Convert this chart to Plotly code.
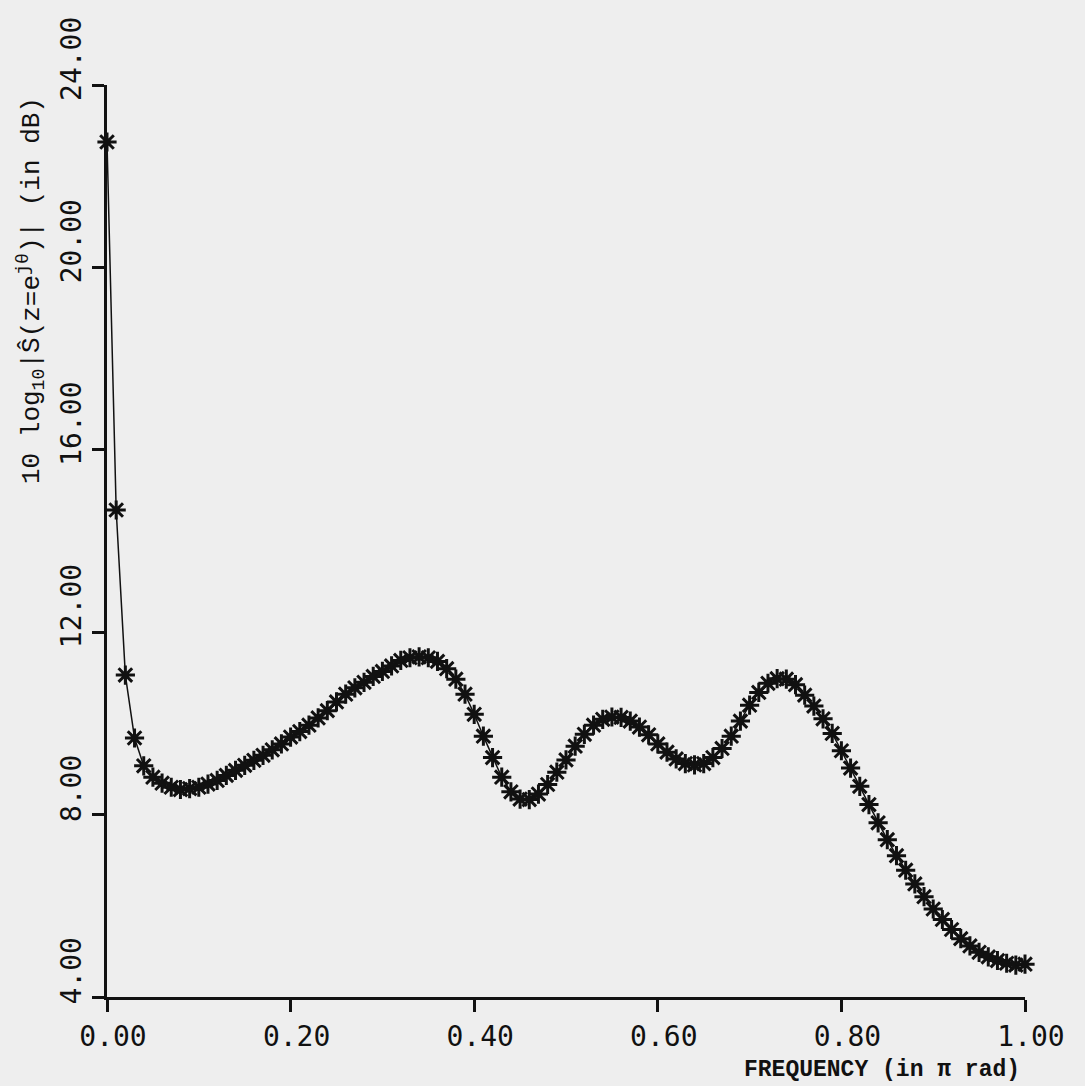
import plotly.graph_objects as go

# Frequency grid (in pi rad) and spectral estimate (dB)
freq = [round(0.01 * k, 2) for k in range(101)]
spectrum_db = [
    22.75, 14.68, 11.06, 9.68, 9.07, 8.82, 8.69, 8.60, 8.55, 8.57,
    8.60, 8.67, 8.75, 8.86, 8.97, 9.08, 9.19, 9.30, 9.42, 9.55,
    9.70, 9.82, 9.96, 10.12, 10.28, 10.47, 10.64, 10.78, 10.90, 11.03,
    11.14, 11.26, 11.38, 11.44, 11.46, 11.44, 11.36, 11.20, 10.97, 10.64,
    10.20, 9.72, 9.25, 8.82, 8.50, 8.34, 8.33, 8.45, 8.66, 8.93,
    9.20, 9.50, 9.76, 9.96, 10.09, 10.14, 10.13, 10.05, 9.92, 9.75,
    9.55, 9.37, 9.22, 9.12, 9.09, 9.12, 9.25, 9.45, 9.72, 10.05,
    10.40, 10.68, 10.88, 10.98, 10.97, 10.85, 10.62, 10.38, 10.10, 9.78,
    9.40, 9.02, 8.62, 8.22, 7.82, 7.45, 7.10, 6.78, 6.48, 6.20,
    5.93, 5.70, 5.48, 5.28, 5.12, 4.98, 4.88, 4.80, 4.74, 4.70,
    4.72,
]

x_ticks = [0.0, 0.2, 0.4, 0.6, 0.8, 1.0]
x_tick_text = ["0.00", "0.20", "0.40", "0.60", "0.80", "1.00"]
y_ticks = [4, 8, 12, 16, 20, 24]
y_tick_text = ["4.00", "8.00", "12.00", "16.00", "20.00", "24.00"]

x_title = "FREQUENCY (in \u03c0 rad)"
y_title = "10 log<sub>10</sub>|\u015c(z=e<sup>j\u03b8</sup>)| (in dB)"

ink = "#111111"
paper = "#eeeeee"

fig = go.Figure()
fig.add_trace(go.Scatter(
    x=freq, y=spectrum_db,
    mode="lines+markers",
    line=dict(color=ink, width=1.5),
    marker=dict(symbol="asterisk-open", size=16,
                line=dict(color=ink, width=3), color=ink),
    cliponaxis=False,
    showlegend=False,
))

axis_font = dict(family="DejaVu Sans Mono", size=28, color=ink)

fig.update_xaxes(
    range=[0, 1], tickvals=x_ticks, ticktext=x_tick_text,
    showline=True, linecolor=ink, linewidth=3,
    ticks="outside", ticklen=12, tickwidth=2.5, tickcolor=ink,
    showgrid=False, zeroline=False, tickfont=axis_font,
    ticklabelshift=6,
)
fig.update_yaxes(
    range=[4, 24], tickvals=y_ticks, ticktext=y_tick_text,
    showline=True, linecolor=ink, linewidth=3,
    ticks="outside", ticklen=12, tickwidth=2.5, tickcolor=ink,
    showgrid=False, zeroline=False, tickfont=axis_font,
    tickangle=-90, ticklabelshift=-22,
)

fig.add_annotation(
    text=y_title, xref="paper", yref="paper",
    x=-0.083, y=0.775, xanchor="center", yanchor="middle",
    textangle=-90, showarrow=False,
    font=dict(family="Liberation Mono", size=26, color=ink),
)
fig.add_annotation(
    text="<b>" + x_title + "</b>", xref="paper", yref="paper",
    x=0.997, y=-0.08, xanchor="right", yanchor="middle",
    showarrow=False,
    font=dict(family="Liberation Mono", size=23, color=ink),
)

fig.update_layout(
    width=1085, height=1086,
    margin=dict(l=107, r=60, t=85, b=89),
    paper_bgcolor=paper, plot_bgcolor=paper,
)

fig.write_html(
    "out.html",
    config={"displayModeBar": False},
    post_script="document.body.style.margin='0';"
                "document.body.style.background='" + paper + "';",
)
